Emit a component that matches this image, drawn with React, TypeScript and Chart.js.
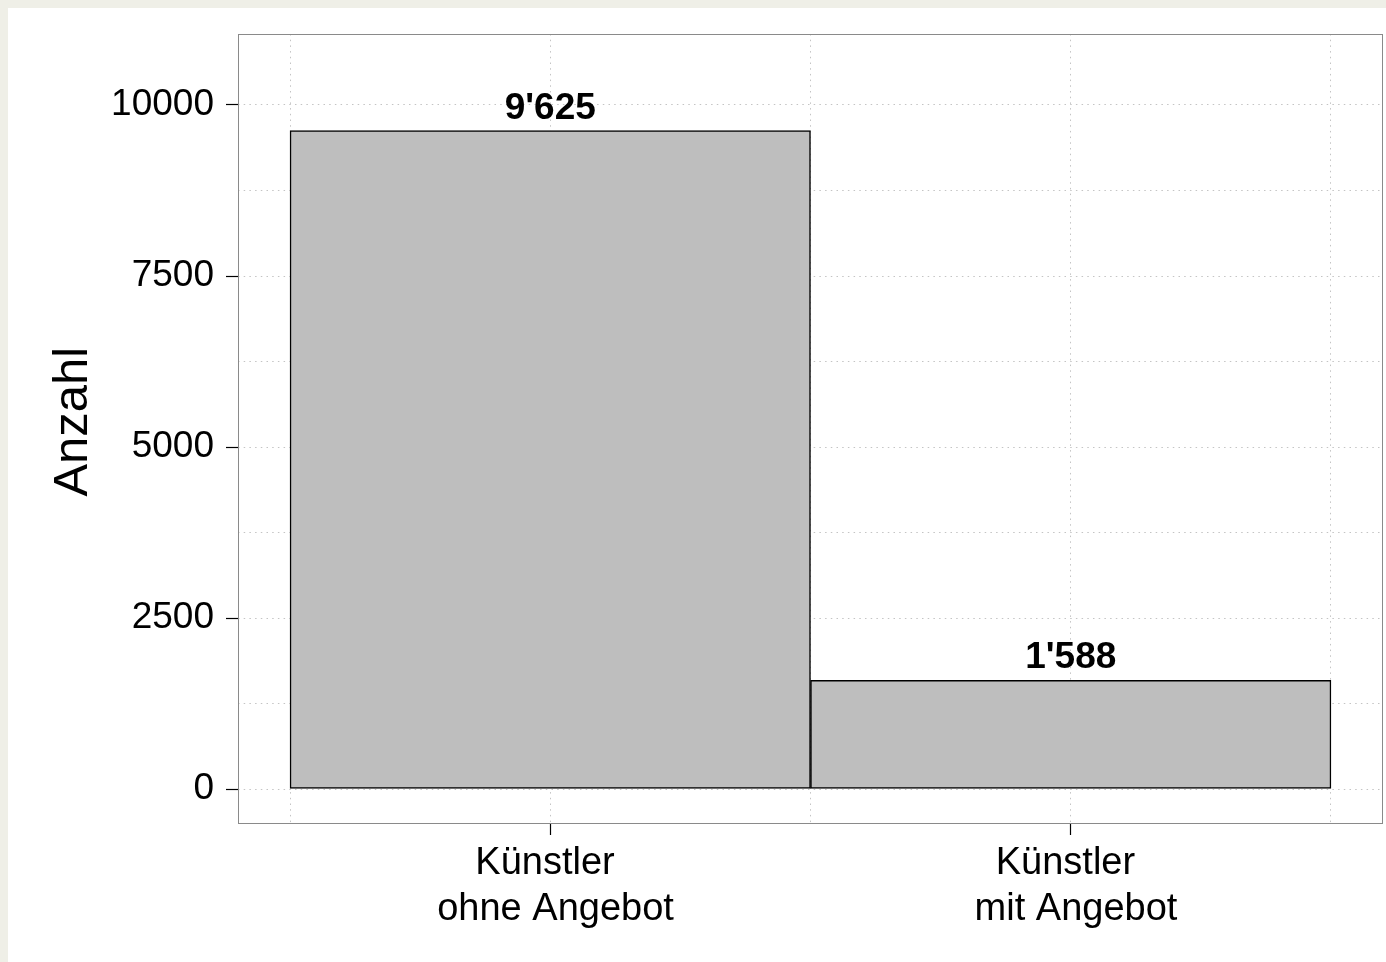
import React, { useEffect, useRef } from "react";
import { Chart, registerables } from "chart.js";

Chart.register(...registerables);

// ---- data ----
const categories: string[][] = [
  ["Künstler ", " ohne Angebot"],
  ["Künstler ", " mit Angebot"],
];
const values: number[] = [9625, 1588];
const yLabeledTicks: number[] = [0, 2500, 5000, 7500, 10000];
const yGridTicks: number[] = [0, 1250, 2500, 3750, 5000, 6250, 7500, 8750, 10000];
const xGridTicks: number[] = [0.5, 1, 1.5, 2, 2.5];
const yTitle = " Anzahl";

const FONT = "'Liberation Sans', Arial, Helvetica, sans-serif";

const fmt = (n: number) => String(n).replace(/\B(?=(\d{3})+(?!\d))/g, "'");

const framePlugin = {
  id: "frame",
  afterDatasetsDraw(chart: any) {
    const { ctx, chartArea } = chart;
    const { left, top, right, bottom } = chartArea;
    ctx.save();
    ctx.strokeStyle = "#8a8a8a";
    ctx.lineWidth = 1;
    ctx.strokeRect(left + 0.5, top + 0.5, right - left - 1, bottom - top);
    // value labels
    const meta = chart.getDatasetMeta(0);
    ctx.fillStyle = "#000";
    ctx.font = `bold 37px ${FONT}`;
    ctx.textAlign = "center";
    ctx.textBaseline = "alphabetic";
    meta.data.forEach((bar: any, i: number) => {
      ctx.fillText(fmt(values[i]), bar.x, bar.y - 12);
    });
    ctx.restore();
  },
};

export default function App() {
  const ref = useRef<HTMLCanvasElement | null>(null);

  useEffect(() => {
    if (!ref.current) return;
    const chart = new Chart(ref.current, {
      type: "bar",
      data: {
        datasets: [
          {
            data: values.map((v, i) => ({ x: i + 1, y: v })),
            backgroundColor: "#bebebe",
            borderColor: "#000",
            borderWidth: 1.5,
            borderSkipped: false,
            barPercentage: 1,
            categoryPercentage: 1,
            barThickness: "flex",
          } as any,
        ],
      },
      options: {
        responsive: false,
        animation: false,
        layout: { padding: { top: 26, right: 3, left: 0, bottom: 0 } },
        plugins: {
          legend: { display: false },
          tooltip: { enabled: false },
        },
        font: { family: FONT } as any,
        scales: {
          x: {
            type: "linear",
            offset: false,
            min: 0.4,
            max: 2.6,
            afterBuildTicks: (scale: any) => {
              scale.ticks = xGridTicks.map((v) => ({ value: v }));
            },
            afterFit: (scale: any) => {
              scale.height = 139;
              scale.paddingLeft = 0;
              scale.paddingRight = 0;
            },
            ticks: {
              autoSkip: false,
              maxRotation: 0,
              minRotation: 0,
              padding: 6,
              color: "#000",
              font: { family: FONT, size: 38, lineHeight: 1.2 },
              callback: (v: any) => {
                const i = Number(v) - 1;
                return Number.isInteger(Number(v)) && categories[i] ? categories[i] : "";
              },
            },
            grid: {
              offset: false,
              color: "#c4c4c4",
              lineWidth: 1,
              tickLength: 12,
              tickWidth: 1.2,
              tickColor: (c: any) =>
                c.tick && Number.isInteger(c.tick.value) ? "#000" : "rgba(0,0,0,0)",
              tickBorderDash: [],
            } as any,
            border: { display: false, dash: [1.5, 4.2] },
          },
          y: {
            type: "linear",
            min: -497,
            max: 11038,
            afterBuildTicks: (scale: any) => {
              scale.ticks = yGridTicks.map((v) => ({ value: v }));
            },
            afterFit: (scale: any) => {
              scale.width = 230;
              scale.paddingTop = 0;
              scale.paddingBottom = 0;
            },
            ticks: {
              padding: 12,
              color: "#000",
              font: { family: FONT, size: 37 },
              callback: (v: any) => (yLabeledTicks.includes(Number(v)) ? String(v) : ""),
            },
            grid: {
              color: "#c4c4c4",
              lineWidth: 1,
              tickLength: 12,
              tickWidth: 1.2,
              tickColor: (c: any) =>
                c.tick && yLabeledTicks.includes(c.tick.value) ? "#000" : "rgba(0,0,0,0)",
              tickBorderDash: [],
            } as any,
            border: { display: false, dash: [1.5, 4.2] },
            title: {
              display: true,
              text: yTitle,
              color: "#000",
              font: { family: FONT, size: 49, lineHeight: 1.2 },
              padding: { top: 36, bottom: 0 },
            },
          },
        },
      },
      plugins: [framePlugin],
    });
    return () => chart.destroy();
  }, []);

  return (
    <div
      style={{
        position: "fixed",
        left: 0,
        top: 0,
        width: 1386,
        height: 962,
        background: "#efefe7",
        overflow: "hidden",
      }}
    >
      <div
        style={{
          position: "absolute",
          left: 8,
          top: 8,
          width: 1378,
          height: 954,
          background: "#ffffff",
        }}
      >
        <canvas ref={ref} width={1378} height={954} style={{ display: "block" }} />
      </div>
    </div>
  );
}
